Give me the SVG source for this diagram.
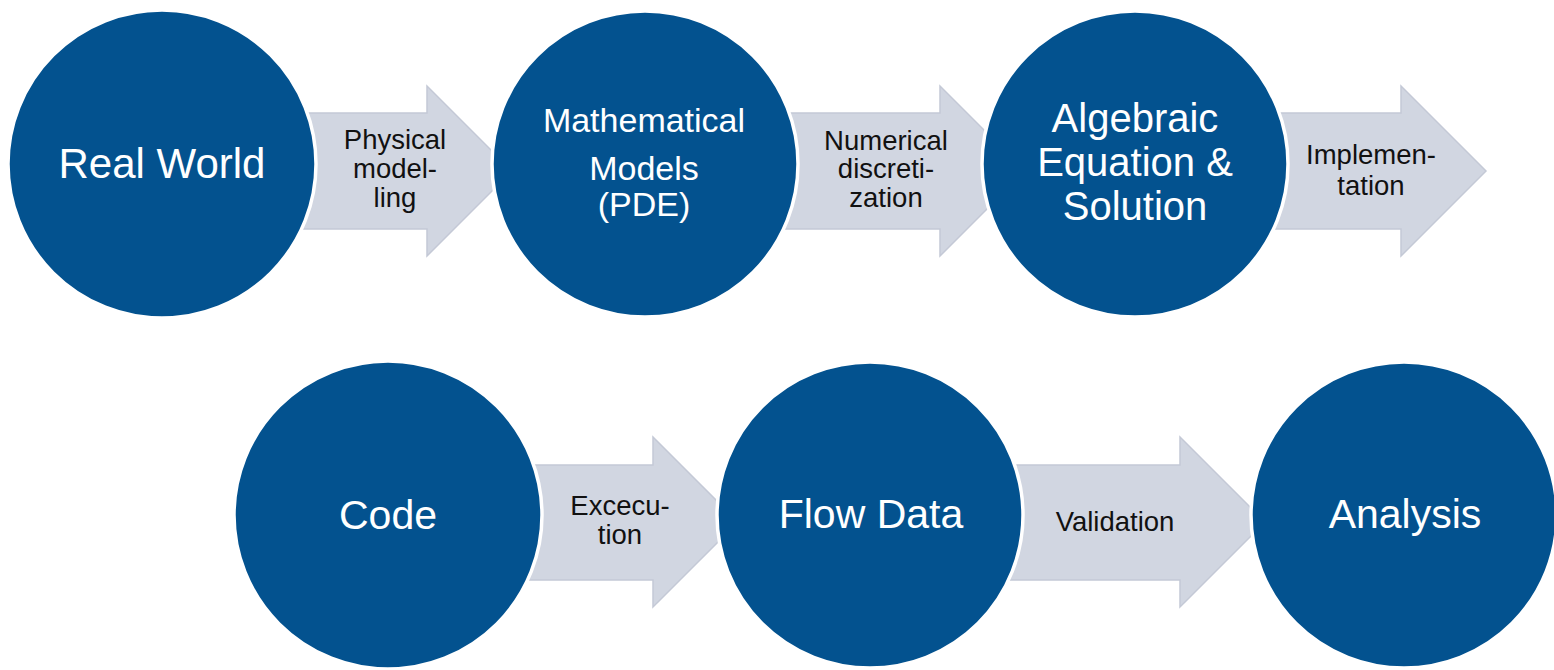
<svg xmlns="http://www.w3.org/2000/svg" width="1554" height="670" viewBox="0 0 1554 670">
<style>
.arrow{fill:#D1D6E1;stroke:#C4C9D6;stroke-width:1.5;stroke-linejoin:miter}
.lbl{font-family:"Liberation Sans",Arial,sans-serif;font-size:27.5px;fill:#111;text-anchor:middle}
.node{fill:#03528F;stroke:#FFFFFF;stroke-width:3.5}
.ntx{font-family:"Liberation Sans",Arial,sans-serif;fill:#FFFFFF;text-anchor:middle}
</style>
<rect width="1554" height="670" fill="#FFFFFF"/>
<g id="connectors">
  <g id="arrow-physical">
    <path class="arrow" d="M290,113 H427 V86 L512,171 L427,256 V229 H290 Z"/>
    <text class="lbl" x="395" y="149">Physical</text>
    <text class="lbl" x="395" y="178">model-</text>
    <text class="lbl" x="395" y="207">ling</text>
  </g>
  <g id="arrow-numerical">
    <path class="arrow" d="M780,113 H940 V86 L1025,171 L940,256 V229 H780 Z"/>
    <text class="lbl" x="886" y="150">Numerical</text>
    <text class="lbl" x="886" y="178">discreti-</text>
    <text class="lbl" x="886" y="207">zation</text>
  </g>
  <g id="arrow-implementation">
    <path class="arrow" d="M1270,113 H1401 V86 L1486,171 L1401,256 V229 H1270 Z"/>
    <text class="lbl" x="1371" y="164">Implemen-</text>
    <text class="lbl" x="1371" y="195">tation</text>
  </g>
  <g id="arrow-execution">
    <path class="arrow" d="M520,465 H653 V437 L738,522 L653,607 V580 H520 Z"/>
    <text class="lbl" x="620" y="515">Excecu-</text>
    <text class="lbl" x="620" y="544">tion</text>
  </g>
  <g id="arrow-validation">
    <path class="arrow" d="M1000,465 H1180 V437 L1265,522 L1180,607 V580 H1000 Z"/>
    <text class="lbl" x="1115" y="531">Validation</text>
  </g>
</g>
<g id="node-real-world">
  <circle class="node" cx="162" cy="164" r="154"/>
  <text class="ntx" x="162" y="178" font-size="42">Real World</text>
</g>
<g id="node-math-models">
  <circle class="node" cx="645" cy="164" r="153"/>
  <text class="ntx" x="644" y="132" font-size="34">Mathematical</text>
  <text class="ntx" x="644" y="180" font-size="34">Models</text>
  <text class="ntx" x="644" y="216" font-size="34">(PDE)</text>
</g>
<g id="node-algebraic">
  <circle class="node" cx="1135" cy="164" r="153"/>
  <text class="ntx" x="1135" y="132" font-size="40">Algebraic</text>
  <text class="ntx" x="1135" y="176" font-size="40">Equation &amp;</text>
  <text class="ntx" x="1135" y="220" font-size="40">Solution</text>
</g>
<g id="node-code">
  <circle class="node" cx="388" cy="515" r="154"/>
  <text class="ntx" x="388" y="529" font-size="41">Code</text>
</g>
<g id="node-flow-data">
  <circle class="node" cx="870" cy="515" r="153"/>
  <text class="ntx" x="871" y="528" font-size="41">Flow Data</text>
</g>
<g id="node-analysis">
  <circle class="node" cx="1404" cy="515" r="153"/>
  <text class="ntx" x="1405" y="528" font-size="41">Analysis</text>
</g>
</svg>
